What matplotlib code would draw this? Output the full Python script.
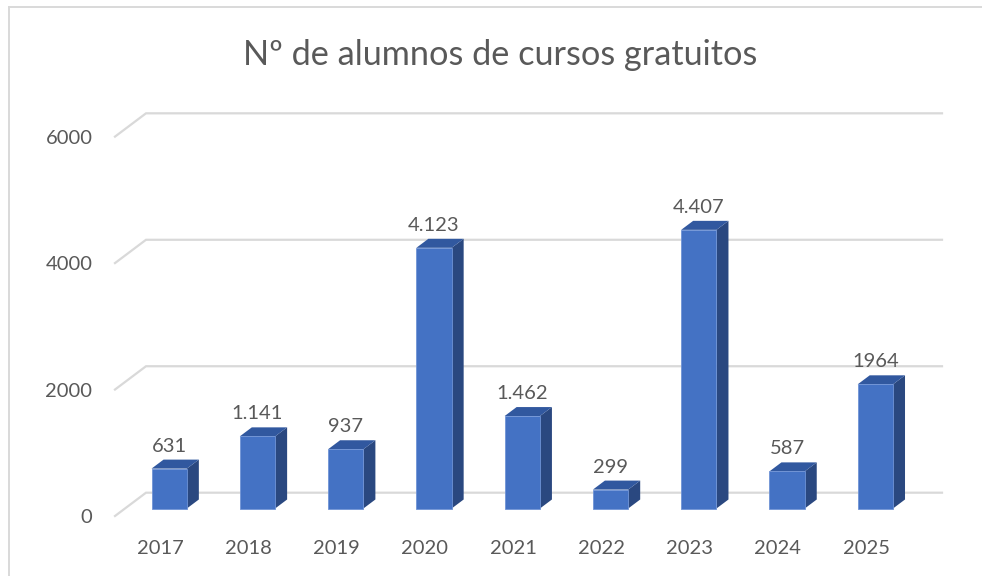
# Free course students per year, fake 3D columns like the Excel original
import matplotlib
matplotlib.use("Agg")
import matplotlib.pyplot as plt
from matplotlib.lines import Line2D

years = ["2017", "2018", "2019", "2020", "2021", "2022", "2023", "2024", "2025"]
values = [631, 1141, 937, 4123, 1462, 299, 4407, 587, 1964]
value_labels = ["631", "1.141", "937", "4.123", "1.462", "299", "4.407", "587", "1964"]
y_ticks = [0, 2000, 4000, 6000]
title = "Nº de alumnos de cursos gratuitos"

W, H = 982, 576
STEP = 88.27     # px between columns
SCALE = 0.06323  # px per student
X0 = 169.2       # px centre of first column
Y0 = 508.5       # px of column base

BAR_W = 35.3 / STEP
DX = 12 / STEP
DY = 9 / SCALE

FRONT = "#4472c4"
SIDE = "#2a4880"
TOP = "#31589f"
GRID = "#d9d9d9"
TEXT = "#595959"
LABEL_SIZE = 14.5

plt.rcParams["font.family"] = ["Lato", "DejaVu Sans"]

fig = plt.figure(figsize=(W / 100, H / 100), dpi=100, facecolor="white")
ax = fig.add_axes([0, 0, 1, 1])
ax.set_xlim(-X0 / STEP, (W - X0) / STEP)
ax.set_ylim(-(H - Y0) / SCALE, Y0 / SCALE)
ax.axis("off")

# floor and back wall lines
x_front = (115 - X0) / STEP
x_back = (146 - X0) / STEP
x_end = (942 - X0) / STEP
off_front = -7.5 / SCALE
off_back = 15.8 / SCALE
for v in y_ticks:
    ax.plot([x_front, x_back, x_end], [v + off_front, v + off_back, v + off_back],
            color=GRID, lw=1.6, solid_joinstyle="miter", zorder=1)
    ax.text((92.5 - X0) / STEP, v + off_front - 1.5 / SCALE, str(v), ha="right", va="center",
            fontsize=LABEL_SIZE, color=TEXT)

for i, (year, v, lab) in enumerate(zip(years, values, value_labels)):
    left = i - BAR_W / 2
    right = i + BAR_W / 2
    ax.bar(i, v, width=BAR_W, color=FRONT, edgecolor="#6f93d6", linewidth=0.6, zorder=3)
    ax.fill([right, right + DX, right + DX, right],
            [0, DY, v + DY, v], color=SIDE, lw=0, zorder=2)
    ax.fill([left, left + DX, right + DX, right],
            [v, v + DY, v + DY, v], color=TOP, lw=0, zorder=2)
    ax.text(i, v + DY + 5 / SCALE, lab, ha="center", va="bottom", fontsize=LABEL_SIZE,
            color=TEXT, zorder=4)
    ax.text(i - 0.105, -40 / SCALE, year, ha="center", va="center", fontsize=LABEL_SIZE,
            color=TEXT)

fig.text(500.5 / W, 1 - 55 / H, title, ha="center", va="center", fontsize=24.7, color=TEXT)

# chart frame, only left and top edges show in the screenshot
for xs, ys in [([8.5, 8.5], [576, 6.5]), ([8.5, 982], [6.5, 6.5])]:
    fig.add_artist(Line2D([x / W for x in xs], [1 - y / H for y in ys], color=GRID, lw=1.4))

fig.savefig("out.png", dpi=100)
